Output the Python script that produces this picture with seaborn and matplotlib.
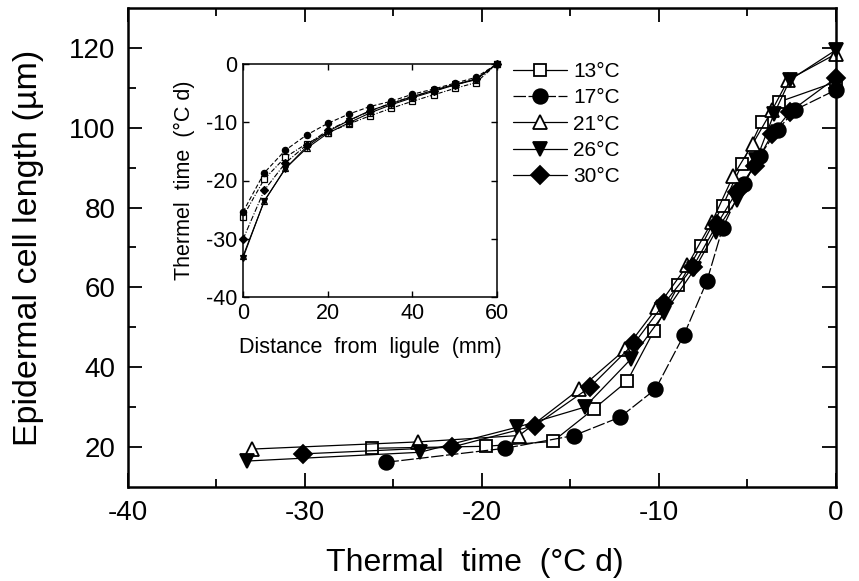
import numpy as np
import pandas as pd
import seaborn as sns
import matplotlib.pyplot as plt

sns.set_theme(style="ticks")
plt.rcParams['font.family'] = ['Liberation Sans', 'DejaVu Sans']
plt.rcParams['axes.unicode_minus'] = False
plt.rcParams['text.color'] = 'black'
plt.rcParams['axes.labelcolor'] = 'black'
plt.rcParams['xtick.color'] = 'black'
plt.rcParams['ytick.color'] = 'black'

# distance from ligule (mm), same for every temperature
distance = [0, 5, 10, 15, 20, 25, 30, 35, 40, 45, 50, 55, 60]

# thermal time (degC d) at each distance
tt_13 = [-26.2, -19.8, -16.0, -13.7, -11.8, -10.3, -8.9, -7.6, -6.4, -5.3, -4.2, -3.2, 0]
tt_17 = [-25.4, -18.7, -14.8, -12.2, -10.2, -8.6, -7.3, -6.4, -5.2, -4.3, -3.3, -2.3, 0]
tt_21 = [-33.0, -23.6, -17.9, -14.5, -11.9, -10.1, -8.4, -7.0, -5.8, -4.7, -3.6, -2.7, 0]
tt_26 = [-33.3, -23.5, -18.0, -14.2, -11.6, -9.7, -8.0, -6.8, -5.6, -4.5, -3.5, -2.6, 0]
tt_30 = [-30.1, -21.7, -17.0, -13.9, -11.4, -9.7, -8.1, -6.7, -5.6, -4.6, -3.6, -2.6, 0]

# epidermal cell length (um)
len_13 = [19.7, 20.2, 21.4, 29.5, 36.5, 49.0, 60.5, 70.5, 80.5, 91.0, 101.5, 106.5, 111.5]
len_17 = [16.2, 19.7, 22.9, 27.5, 34.5, 48.0, 61.5, 75.0, 86.0, 93.0, 99.5, 104.5, 109.5]
len_21 = [19.5, 21.3, 22.9, 34.5, 44.5, 55.0, 65.5, 76.5, 88.0, 96.0, 104.5, 112.0, 118.5]
len_26 = [16.5, 18.7, 25.0, 30.0, 42.0, 53.5, 64.5, 74.0, 82.0, 92.0, 103.5, 112.0, 119.5]
len_30 = [18.3, 20.0, 25.4, 35.0, 46.0, 56.0, 65.0, 76.0, 84.0, 90.5, 98.5, 104.0, 112.5]

labels = ['13°C', '17°C', '21°C', '26°C', '30°C']
tts = [tt_13, tt_17, tt_21, tt_26, tt_30]
lens = [len_13, len_17, len_21, len_26, len_30]
markers = ['s', 'o', '^', 'v', 'D']
faces = ['white', 'black', 'white', 'black', 'black']
msizes = [9, 10.5, 10, 10, 9]
main_ls = ['-', (0, (10, 2)), '-', '-', '-']
inset_ls = [(0, (4, 1.5, 1, 1.5)), (0, (4, 2)), '-', '-', (0, (5, 1.5, 1, 1.5))]

fig = plt.figure(figsize=(8.59, 5.81), dpi=100)
W, H = 859, 581
ax = fig.add_axes([128 / W, 1 - 487 / H, 708 / W, 479 / H])

for lab, tt, ln, m, fc, ms, ls in zip(labels, tts, lens, markers, faces, msizes, main_ls):
    df = pd.DataFrame({'tt': tt, 'len': ln})
    sns.lineplot(data=df, x='tt', y='len', ax=ax, estimator=None, sort=False,
                 color='black', linewidth=0.9, linestyle=ls, marker=m,
                 markersize=ms, markerfacecolor=fc, markeredgecolor='black',
                 markeredgewidth=1.3, label=lab, clip_on=False)

ax.set_xlim(-40, 0)
ax.set_ylim(10, 130)
ax.set_xticks([-40, -30, -20, -10, 0])
ax.set_xticks(np.arange(-35, 0, 10), minor=True)
ax.set_yticks([20, 40, 60, 80, 100, 120])
ax.set_yticks(np.arange(30, 130, 20), minor=True)
ax.tick_params(which='both', direction='in', top=True, right=True,
               color='black', labelcolor='black', width=1.3, labelsize=20, pad=9)
ax.tick_params(which='major', length=10)
ax.tick_params(which='minor', length=6)
for s in ax.spines.values():
    s.set_linewidth(1.8)
    s.set_color('black')
ax.set_xlabel('Thermal  time  (°C d)', fontsize=23)
ax.set_ylabel('Epidermal cell length (µm)', fontsize=24.5)
ax.xaxis.set_label_coords(0.49, -0.128)
ax.yaxis.set_label_coords(-0.118, 0.5)

handles, labs = ax.get_legend_handles_labels()
ax.legend(handles, labs, loc='upper left', bbox_to_anchor=(513 / W, 1 - 62 / H),
          bbox_transform=fig.transFigure, frameon=False, fontsize=15,
          handlelength=2.6, handletextpad=0.3, labelspacing=0.35,
          borderpad=0, borderaxespad=0)

# inset: thermal time vs distance from ligule
ins = fig.add_axes([243 / W, 1 - 297 / H, 254 / W, 233 / H])
for lab, tt, m, fc, ls in zip(labels, tts, markers, faces, inset_ls):
    df = pd.DataFrame({'dist': distance, 'tt': tt})
    sns.lineplot(data=df, x='dist', y='tt', ax=ins, estimator=None, sort=False,
                 color='black', linewidth=0.8, linestyle=ls, marker=m,
                 markersize=4.5, markerfacecolor=fc, markeredgecolor='black',
                 markeredgewidth=0.9, legend=False, clip_on=False)
ins.set_xlim(0, 60)
ins.set_ylim(-40, 0)
ins.set_xticks([0, 20, 40, 60])
ins.set_yticks([-40, -30, -20, -10, 0])
ins.tick_params(direction='in', top=True, right=True, length=4, width=1,
                color='black', labelcolor='black', labelsize=15.5, pad=4)
for s in ins.spines.values():
    s.set_linewidth(1.1)
    s.set_color('black')
ins.set_facecolor('white')
ins.set_xlabel('Distance  from  ligule  (mm)', fontsize=15.5)
ins.set_ylabel('Thermel  time  (°C d)', fontsize=15.5)
ins.xaxis.set_label_coords(0.5, -0.17)
ins.yaxis.set_label_coords(-0.19, 0.5)

fig.savefig('out.png', dpi=100)
